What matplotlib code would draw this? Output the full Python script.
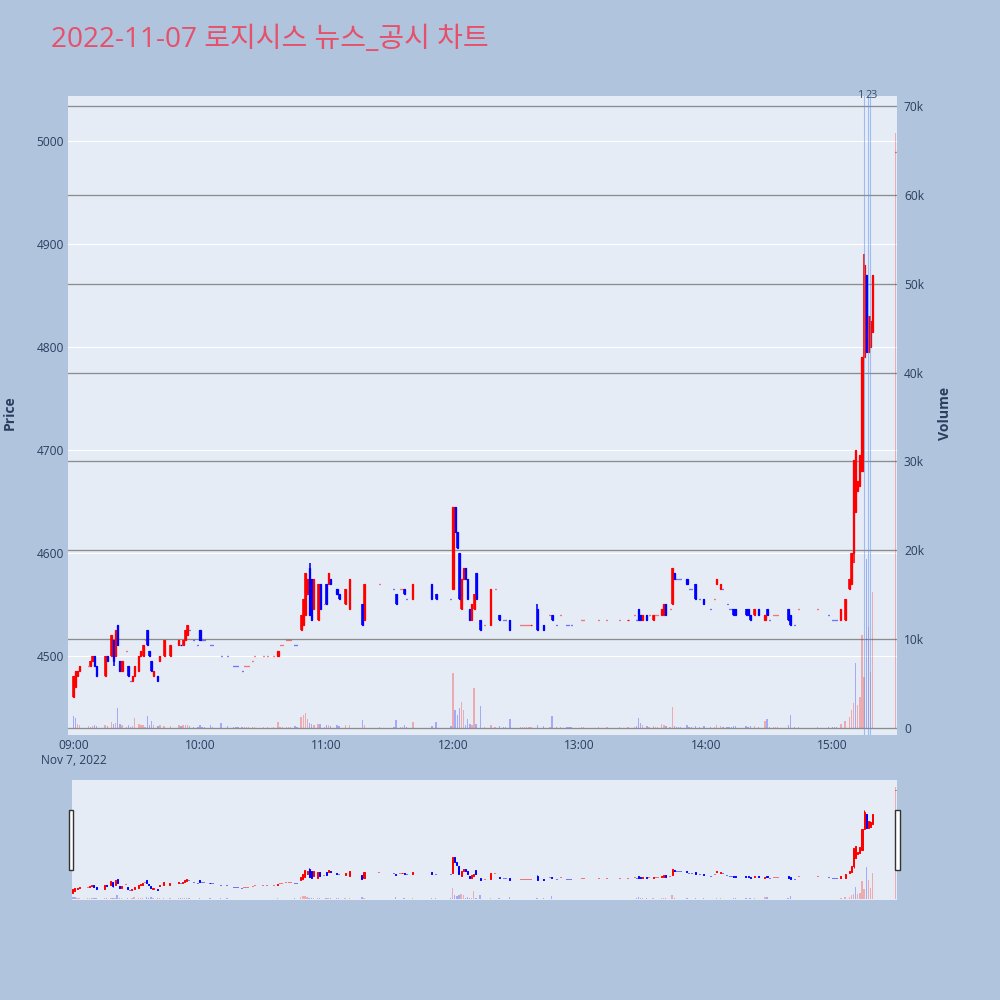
import matplotlib
matplotlib.use('Agg')
import matplotlib.pyplot as plt
import matplotlib.dates as mdates
from matplotlib.transforms import blended_transform_factory
from matplotlib.patches import Rectangle
import pandas as pd
import numpy as np

# ---------------- data ----------------
TITLE = '2022-11-07 로지시스 뉴스_공시 차트'
DATE = '2022-11-07'

times = [
    '09:00', '09:01', '09:02', '09:03', '09:07', '09:08', '09:09', '09:10', '09:11', '09:15',
    '09:16', '09:18', '09:19', '09:20', '09:21', '09:22', '09:23', '09:25', '09:26', '09:27',
    '09:28', '09:29', '09:31', '09:32', '09:33', '09:34', '09:35', '09:36', '09:37', '09:38',
    '09:40', '09:41', '09:43', '09:46', '09:50', '09:51', '09:52', '09:53', '09:54', '09:55',
    '09:57', '09:59', '10:00', '10:01', '10:02', '10:05', '10:06', '10:10', '10:13', '10:16',
    '10:17', '10:18', '10:20', '10:21', '10:22', '10:23', '10:25', '10:26', '10:30', '10:32',
    '10:35', '10:37', '10:38', '10:39', '10:41', '10:42', '10:43', '10:45', '10:46', '10:48',
    '10:49', '10:50', '10:51', '10:52', '10:53', '10:54', '10:56', '10:57', '10:59', '11:00',
    '11:01', '11:02', '11:05', '11:06', '11:09', '11:11', '11:17', '11:18', '11:25', '11:32',
    '11:33', '11:35', '11:36', '11:37', '11:38', '11:41', '11:50', '11:52', '11:59', '12:00',
    '12:01', '12:02', '12:03', '12:04', '12:05', '12:06', '12:07', '12:08', '12:09', '12:10',
    '12:11', '12:13', '12:15', '12:18', '12:20', '12:22', '12:24', '12:25', '12:27', '12:32',
    '12:33', '12:34', '12:35', '12:36', '12:37', '12:40', '12:43', '12:46', '12:47', '12:49',
    '12:51', '12:54', '12:55', '12:56', '13:01', '13:02', '13:09', '13:13', '13:19', '13:23',
    '13:26', '13:27', '13:28', '13:29', '13:30', '13:32', '13:33', '13:35', '13:36', '13:37',
    '13:39', '13:40', '13:41', '13:43', '13:44', '13:45', '13:46', '13:47', '13:48', '13:51',
    '13:52', '13:53', '13:55', '13:57', '13:59', '14:02', '14:04', '14:05', '14:07', '14:08',
    '14:10', '14:11', '14:12', '14:13', '14:14', '14:19', '14:20', '14:21', '14:23', '14:25',
    '14:28', '14:29', '14:30', '14:32', '14:33', '14:34', '14:39', '14:40', '14:42', '14:44',
    '14:53', '14:58', '15:00', '15:01', '15:02', '15:04', '15:06', '15:08', '15:09', '15:10',
    '15:11', '15:12', '15:13', '15:14', '15:15', '15:16', '15:17', '15:18', '15:19', '15:30',
]

opens = [
    4460, 4470, 4480, 4485, 4490, 4490, 4495, 4500, 4490, 4480,
    4500, 4500, 4515, 4500, 4530, 4495, 4485, 4505, 4490, 4475,
    4475, 4480, 4485, 4500, 4500, 4515, 4525, 4505, 4495, 4480,
    4480, 4495, 4500, 4500, 4510, 4510, 4510, 4515, 4520, 4525,
    4515, 4510, 4525, 4515, 4515, 4510, 4510, 4500, 4500, 4490,
    4490, 4490, 4485, 4490, 4490, 4490, 4495, 4500, 4500, 4500,
    4500, 4500, 4510, 4510, 4515, 4515, 4515, 4510, 4510, 4525,
    4530, 4540, 4560, 4585, 4575, 4545, 4535, 4570, 4550, 4570,
    4570, 4575, 4565, 4560, 4550, 4545, 4550, 4535, 4570, 4565,
    4560, 4565, 4565, 4565, 4555, 4555, 4570, 4560, 4555, 4565,
    4645, 4620, 4600, 4545, 4575, 4585, 4575, 4545, 4535, 4545,
    4580, 4535, 4530, 4530, 4565, 4540, 4535, 4535, 4535, 4530,
    4530, 4530, 4530, 4530, 4530, 4545, 4530, 4540, 4540, 4530,
    4540, 4530, 4530, 4530, 4535, 4535, 4535, 4535, 4535, 4535,
    4540, 4535, 4545, 4540, 4535, 4540, 4540, 4535, 4540, 4540,
    4540, 4540, 4550, 4545, 4550, 4580, 4575, 4575, 4575, 4575,
    4565, 4565, 4570, 4555, 4555, 4545, 4555, 4570, 4565, 4565,
    4550, 4545, 4545, 4545, 4545, 4545, 4545, 4540, 4540, 4545,
    4535, 4545, 4535, 4540, 4540, 4540, 4545, 4540, 4530, 4545,
    4545, 4540, 4535, 4535, 4535, 4535, 4535, 4565, 4570, 4600,
    4640, 4660, 4665, 4680, 4790, 4870, 4795, 4800, 4815, 4990,
]

highs = [
    4480, 4485, 4485, 4490, 4490, 4495, 4500, 4500, 4490, 4500,
    4500, 4520, 4515, 4525, 4530, 4495, 4495, 4505, 4490, 4475,
    4480, 4490, 4500, 4505, 4510, 4515, 4525, 4505, 4495, 4485,
    4480, 4500, 4515, 4510, 4515, 4510, 4515, 4525, 4530, 4525,
    4515, 4510, 4525, 4515, 4515, 4510, 4510, 4500, 4500, 4490,
    4490, 4490, 4485, 4490, 4490, 4490, 4495, 4500, 4500, 4500,
    4500, 4505, 4510, 4510, 4515, 4515, 4515, 4510, 4510, 4540,
    4555, 4580, 4575, 4590, 4575, 4575, 4570, 4570, 4550, 4570,
    4580, 4575, 4565, 4560, 4565, 4575, 4550, 4570, 4570, 4565,
    4560, 4565, 4565, 4565, 4555, 4570, 4570, 4560, 4555, 4645,
    4645, 4620, 4600, 4575, 4585, 4585, 4575, 4545, 4550, 4560,
    4580, 4535, 4530, 4565, 4565, 4540, 4535, 4535, 4535, 4530,
    4530, 4530, 4530, 4530, 4530, 4550, 4530, 4540, 4540, 4530,
    4540, 4530, 4530, 4530, 4535, 4535, 4535, 4535, 4535, 4535,
    4540, 4535, 4545, 4540, 4540, 4540, 4540, 4540, 4540, 4540,
    4545, 4550, 4550, 4545, 4585, 4580, 4575, 4575, 4575, 4575,
    4565, 4565, 4570, 4555, 4555, 4545, 4555, 4575, 4570, 4565,
    4550, 4545, 4545, 4545, 4545, 4545, 4545, 4540, 4545, 4545,
    4540, 4545, 4535, 4540, 4540, 4540, 4545, 4540, 4530, 4545,
    4545, 4540, 4535, 4535, 4535, 4545, 4555, 4575, 4600, 4690,
    4700, 4670, 4695, 4790, 4890, 4870, 4830, 4830, 4870, 4990,
]

lows = [
    4460, 4470, 4480, 4485, 4490, 4490, 4495, 4490, 4480, 4480,
    4495, 4500, 4490, 4500, 4510, 4485, 4485, 4505, 4480, 4475,
    4475, 4480, 4485, 4500, 4500, 4515, 4510, 4500, 4485, 4480,
    4475, 4495, 4500, 4500, 4510, 4510, 4510, 4515, 4520, 4525,
    4515, 4510, 4515, 4515, 4515, 4510, 4510, 4500, 4500, 4490,
    4490, 4490, 4485, 4490, 4490, 4490, 4495, 4500, 4500, 4500,
    4500, 4500, 4510, 4510, 4515, 4515, 4515, 4510, 4510, 4525,
    4530, 4540, 4560, 4540, 4535, 4545, 4535, 4545, 4550, 4550,
    4570, 4570, 4560, 4555, 4550, 4545, 4530, 4535, 4570, 4565,
    4550, 4565, 4565, 4560, 4555, 4555, 4555, 4555, 4555, 4565,
    4620, 4605, 4555, 4545, 4575, 4575, 4555, 4535, 4535, 4545,
    4555, 4525, 4530, 4530, 4565, 4535, 4535, 4535, 4525, 4530,
    4530, 4530, 4530, 4530, 4530, 4525, 4525, 4540, 4535, 4530,
    4540, 4530, 4530, 4530, 4535, 4535, 4535, 4535, 4535, 4535,
    4540, 4535, 4535, 4535, 4535, 4535, 4540, 4535, 4540, 4540,
    4540, 4540, 4540, 4545, 4550, 4575, 4575, 4575, 4575, 4570,
    4565, 4565, 4555, 4555, 4550, 4545, 4555, 4570, 4565, 4565,
    4550, 4545, 4545, 4540, 4540, 4540, 4540, 4535, 4540, 4540,
    4535, 4540, 4535, 4540, 4540, 4540, 4535, 4530, 4530, 4545,
    4545, 4540, 4535, 4535, 4535, 4535, 4535, 4565, 4570, 4590,
    4640, 4660, 4665, 4680, 4790, 4795, 4795, 4800, 4815, 4990,
]

closes = [
    4480, 4485, 4485, 4490, 4490, 4495, 4500, 4490, 4480, 4500,
    4495, 4520, 4495, 4525, 4510, 4485, 4495, 4505, 4480, 4475,
    4480, 4490, 4500, 4505, 4510, 4515, 4510, 4500, 4485, 4485,
    4475, 4500, 4515, 4510, 4515, 4510, 4515, 4525, 4530, 4525,
    4515, 4510, 4515, 4515, 4515, 4510, 4510, 4500, 4500, 4490,
    4490, 4490, 4485, 4490, 4490, 4490, 4495, 4500, 4500, 4500,
    4500, 4505, 4510, 4510, 4515, 4515, 4515, 4510, 4510, 4540,
    4555, 4580, 4575, 4540, 4535, 4575, 4570, 4545, 4550, 4550,
    4580, 4570, 4560, 4555, 4565, 4575, 4530, 4570, 4570, 4565,
    4550, 4565, 4565, 4560, 4555, 4570, 4555, 4555, 4555, 4645,
    4620, 4605, 4555, 4575, 4585, 4575, 4555, 4535, 4550, 4560,
    4555, 4525, 4530, 4565, 4565, 4535, 4535, 4535, 4525, 4530,
    4530, 4530, 4530, 4530, 4530, 4525, 4525, 4540, 4535, 4530,
    4540, 4530, 4530, 4530, 4535, 4535, 4535, 4535, 4535, 4535,
    4540, 4535, 4535, 4535, 4540, 4535, 4540, 4540, 4540, 4540,
    4545, 4550, 4540, 4545, 4585, 4575, 4575, 4575, 4575, 4570,
    4565, 4565, 4555, 4555, 4550, 4545, 4555, 4575, 4570, 4565,
    4550, 4545, 4545, 4540, 4540, 4540, 4540, 4535, 4545, 4540,
    4540, 4540, 4535, 4540, 4540, 4540, 4535, 4530, 4530, 4545,
    4545, 4540, 4535, 4535, 4535, 4545, 4555, 4575, 4600, 4690,
    4700, 4670, 4695, 4790, 4880, 4795, 4830, 4825, 4870, 4990,
]

volumes = [
    1300, 1100, 400, 300, 200, 150, 200, 300, 200, 300,
    200, 700, 500, 600, 2200, 400, 300, 100, 300, 100,
    200, 1100, 500, 300, 300, 100, 1300, 300, 800, 300,
    200, 300, 200, 200, 300, 200, 300, 300, 300, 200,
    100, 100, 300, 100, 100, 300, 100, 600, 200, 100,
    100, 100, 100, 100, 100, 100, 100, 100, 100, 100,
    100, 700, 100, 100, 100, 100, 100, 200, 100, 1200,
    1500, 1700, 1000, 600, 500, 300, 400, 400, 100, 300,
    300, 200, 300, 200, 300, 300, 900, 300, 100, 100,
    900, 100, 100, 300, 100, 700, 200, 700, 200, 6200,
    2000, 1500, 2200, 2900, 2000, 300, 1000, 400, 300, 4500,
    400, 2500, 100, 300, 100, 200, 100, 100, 1000, 100,
    100, 100, 100, 100, 100, 300, 200, 100, 1400, 100,
    100, 100, 100, 100, 100, 100, 100, 100, 100, 100,
    100, 200, 1100, 600, 300, 200, 100, 200, 100, 100,
    500, 300, 200, 100, 2400, 200, 100, 100, 100, 300,
    100, 100, 200, 100, 200, 100, 100, 300, 200, 100,
    100, 100, 100, 200, 200, 200, 100, 200, 200, 100,
    800, 1000, 100, 100, 100, 100, 300, 1500, 100, 100,
    100, 100, 100, 100, 100, 400, 800, 1200, 2000, 2800,
    7300, 2600, 3500, 10500, 5700, 19000, 11400, 6300, 15300, 67000,
]

# volume bars whose colour differs from the candle colour
vol_color_override = {'09:00': 'down', '09:01': 'down', '15:11': 'down'}

news_times = ['15:15', '15:17', '15:18']
news_labels = ['1', '2', '3']

price_ticks = [4500, 4600, 4700, 4800, 4900, 5000]
volume_ticks = [0, 10000, 20000, 30000, 40000, 50000, 60000, 70000]
volume_tick_labels = ['0', '10k', '20k', '30k', '40k', '50k', '60k', '70k']
hour_ticks = ['09:00', '10:00', '11:00', '12:00', '13:00', '14:00', '15:00']

# ---------------- style ----------------
RED = '#FF0000'
BLUE = '#0000FF'
FG = '#2a3f5f'
PAPER = '#B0C4DE'
PLOT = '#E5ECF6'
TITLE_COLOR = '#E6506A'
FONT = 'Open Sans'
PX = 0.72  # points per pixel at dpi 100

MIN = 1.0 / 1440.0


def to_num(tlist):
    return mdates.date2num(pd.to_datetime([f'{DATE} {t}' for t in tlist]).to_numpy())


x = to_num(times)
o = np.array(opens, float)
h = np.array(highs, float)
l = np.array(lows, float)
c = np.array(closes, float)
v = np.array(volumes, float)

# Plotly direction rule: flat candles compare with previous close
inc = []
prev_c, prev_d = None, True
for oi, ci in zip(o, c):
    if ci > oi:
        d = True
    elif ci < oi:
        d = False
    elif prev_c is not None and ci != prev_c:
        d = ci > prev_c
    else:
        d = prev_d
    inc.append(d)
    prev_c, prev_d = ci, d
cols = [RED if d else BLUE for d in inc]
vcols = []
for t, d in zip(times, inc):
    if t in vol_color_override:
        vcols.append(RED if vol_color_override[t] == 'up' else BLUE)
    else:
        vcols.append(RED if d else BLUE)

x0 = to_num(['09:00'])[0]
PRICE_LIM = (4423, 5044)
VOL_LIM = (-790, 71130)

fig = plt.figure(figsize=(10, 10), dpi=100)
fig.patch.set_facecolor(PAPER)


def draw(axp, axv, body_lw, wick_lw):
    axv.bar(x, v, width=0.65 * MIN, color=vcols, alpha=0.28, linewidth=0)
    axp.vlines(x, l, h, colors=cols, linewidth=wick_lw, zorder=3)
    axp.bar(x, np.abs(c - o), bottom=np.minimum(o, c), width=0.5 * MIN,
            color=cols, edgecolor=cols, linewidth=body_lw, zorder=4)


def style_blank(ax):
    for s in ax.spines.values():
        s.set_visible(False)


# ---------------- main chart ----------------
rect = [0.068, 0.265, 0.829, 0.639]
axv = fig.add_axes(rect)
axp = fig.add_axes(rect, sharex=axv)
axv.set_facecolor(PLOT)
axp.patch.set_visible(False)
style_blank(axv)
style_blank(axp)

axv.set_ylim(*VOL_LIM)
axp.set_ylim(*PRICE_LIM)
axp.set_xlim(x0 - 2.6 * MIN, x0 + 390.6 * MIN)

# grids (all below data)
axv.set_yticks(volume_ticks)
axv.set_yticklabels(volume_tick_labels)
axv.yaxis.tick_right()
axv.grid(axis='y', color='#8c8c8c', linewidth=1.3 * PX, zorder=0)
axv.set_axisbelow(True)
bt = blended_transform_factory(axv.transAxes, axp.transData)
for p in price_ticks:
    axv.plot([0, 1], [p, p], transform=bt, color='white', linewidth=1.2 * PX, zorder=0.5)

draw(axp, axv, body_lw=1.3 * PX, wick_lw=1.6 * PX)

axp.set_yticks(price_ticks)
axp.set_yticklabels([str(p) for p in price_ticks])
xt = to_num(hour_ticks)
axp.set_xticks(xt)
axp.set_xticklabels([hour_ticks[0] + '\nNov 7, 2022'] + hour_ticks[1:])
axv.tick_params(axis='x', bottom=False, labelbottom=False)
axp.tick_params(axis='both', length=0, colors=FG, labelsize=12 * PX)
axp.tick_params(axis='y', pad=3)
axp.tick_params(axis='x', pad=3)
axv.tick_params(axis='y', length=0, colors=FG, labelsize=12 * PX, pad=5)
for lab in axp.get_xticklabels() + axp.get_yticklabels() + axv.get_yticklabels():
    lab.set_fontfamily(FONT)

# news markers (labels sit side by side just above the plot top, as in the reference)
xn = to_num(news_times)
label_ha = ['right', 'center', 'left']
for xi, lab, ha in zip(xn, news_labels, label_ha):
    axp.axvline(xi, color='#6495ED', alpha=0.55, linewidth=1.1 * PX, zorder=6)
    axp.text(xi, 1.0, lab, transform=blended_transform_factory(axp.transData, axp.transAxes),
             ha=ha, va='center', fontsize=11 * PX, color='#3d4f6a', family=FONT, zorder=7)

# ---------------- range slider ----------------
srect = [0.072, 0.100, 0.825, 0.120]
sv = fig.add_axes(srect)
sp = fig.add_axes(srect, sharex=sv)
sv.set_facecolor(PLOT)
sp.patch.set_visible(False)
for a in (sv, sp):
    style_blank(a)
    a.set_xticks([])
    a.set_yticks([])
sv.set_ylim(*VOL_LIM)
sp.set_ylim(*PRICE_LIM)
sp.set_xlim(x0 - 0.4 * MIN, x0 + 390.6 * MIN)
draw(sp, sv, body_lw=1.0 * PX, wick_lw=1.0 * PX)

for hx in (0.0685, 0.8950):
    fig.add_artist(Rectangle((hx, 0.130), 0.0045, 0.060, transform=fig.transFigure,
                             facecolor='white', edgecolor='#333333', linewidth=1.0))

# ---------------- texts ----------------
fig.text(0.051, 0.960, TITLE, fontsize=28 * PX, color=TITLE_COLOR, ha='left', va='center',
         family=['Open Sans', 'Noto Sans CJK KR', 'DejaVu Sans'])
fig.text(0.010, 1 - 0.413, 'Price', rotation=90, ha='center', va='center',
         fontsize=14 * PX, color=FG, family=FONT, fontweight='bold')
fig.text(0.945, 1 - 0.413, 'Volume', rotation=90, ha='center', va='center',
         fontsize=14 * PX, color=FG, family=FONT, fontweight='bold')

fig.savefig('out.png', dpi=100, facecolor=PAPER)
